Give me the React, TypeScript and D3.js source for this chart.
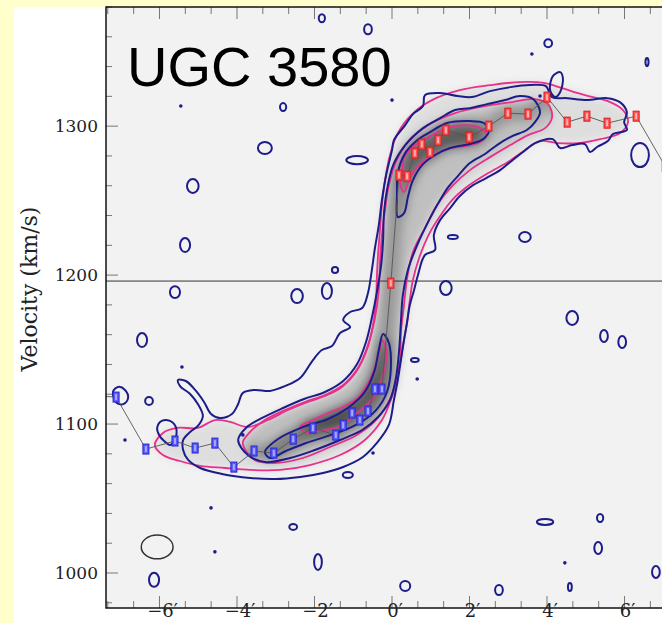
import * as d3 from "d3";

type P = [number, number];

// rotation curve, arcmin offset vs velocity (km/s)
const recedingPts: P[] = [
  [-7.7, 1119], [-7.12, 1118.1], [-6.35, 1083.2], [-5.6, 1088.6], [-5.08, 1083.9], [-4.57, 1087.2],
  [-4.08, 1071.1], [-3.56, 1081.9], [-3.05, 1080.5], [-2.55, 1089.9], [-2.04, 1097.3],
  [-1.45, 1092.6], [-1.26, 1099.3], [-1.03, 1107.4], [-0.83, 1102.7], [-0.62, 1108.7],
  [-0.44, 1123.5], [-0.26, 1123.5],
];
const approachingPts: P[] = [
  [-0.03, 1194.6], [0.18, 1267.1], [0.39, 1266.4], [0.59, 1281.9], [0.77, 1287.9], [0.98, 1282.6],
  [1.19, 1290.6], [1.39, 1297.3], [1.99, 1292.6], [2.5, 1300.0], [2.99, 1308.7], [3.51, 1308.1],
  [4.0, 1319.5], [4.52, 1302.7], [5.03, 1306.7], [5.55, 1302.0], [6.3, 1306.7], [7.05, 1273],
];
const systemicVel = 1196;

// model contours (magenta)
const modelOuter: P[] = [
  [-6.12, 1086.0], [-5.91, 1094.0], [-5.55, 1097.4], [-5.01, 1097.4], [-4.57, 1102.7], [-4.18, 1101.4],
  [-3.72, 1098.0], [-3.2, 1102.7], [-2.68, 1109.4], [-2.17, 1114.8], [-1.73, 1118.8], [-1.29, 1124.9],
  [-0.93, 1134.9], [-0.65, 1149.7], [-0.49, 1166.5], [-0.41, 1183.3], [-0.39, 1198.7], [-0.36, 1213.5],
  [-0.31, 1230.2], [-0.26, 1247.0], [-0.18, 1263.8], [-0.05, 1280.6], [0.15, 1295.3], [0.52, 1308.1],
  [1.03, 1317.5], [1.75, 1324.2], [2.53, 1327.5], [3.3, 1329.6], [3.95, 1328.9], [4.39, 1325.5],
  [4.98, 1320.8], [5.57, 1316.8], [5.96, 1310.8], [6.09, 1302.7], [5.88, 1295.3], [5.37, 1291.3],
  [4.8, 1288.6], [4.28, 1288.6], [3.82, 1290.0], [3.43, 1283.9], [2.99, 1275.9], [2.48, 1268.5],
  [1.96, 1259.8], [1.55, 1250.4], [1.24, 1239.6], [0.93, 1226.2], [0.7, 1211.5], [0.54, 1196.7],
  [0.46, 1183.3], [0.39, 1168.5], [0.28, 1152.4], [0.15, 1132.9], [-0.03, 1116.2], [-0.26, 1102.7],
  [-0.7, 1089.3], [-1.34, 1079.2], [-2.12, 1072.5], [-2.89, 1069.2], [-3.66, 1069.2], [-4.31, 1070.5],
  [-4.95, 1071.9], [-5.47, 1075.2], [-5.91, 1079.2],
];
const modelMid: P[] = [
  [-3.85, 1087.3], [-3.66, 1094.7], [-3.28, 1102.7], [-2.76, 1109.4], [-2.25, 1114.8], [-1.73, 1119.5],
  [-1.26, 1126.2], [-0.88, 1137.6], [-0.62, 1153.1], [-0.44, 1171.2], [-0.34, 1190.0], [-0.31, 1208.8],
  [-0.26, 1226.9], [-0.18, 1243.7], [-0.08, 1260.4], [0.1, 1275.9], [0.41, 1289.3], [0.93, 1300.7],
  [1.63, 1308.8], [2.4, 1313.5], [3.1, 1316.2], [3.69, 1318.2], [4.03, 1314.8], [4.13, 1306.1],
  [3.95, 1298.7], [3.51, 1294.0], [3.05, 1287.3], [2.53, 1279.2], [2.01, 1270.5], [1.55, 1259.8],
  [1.16, 1247.0], [0.85, 1231.6], [0.54, 1215.5], [0.39, 1198.0], [0.31, 1179.9], [0.23, 1161.8],
  [0.21, 1143.0], [0.08, 1126.2], [-0.13, 1112.8], [-0.46, 1101.4], [-0.95, 1092.0], [-1.6, 1084.6],
  [-2.3, 1077.2], [-2.97, 1073.9], [-3.54, 1075.9],
];
const modelCoreUpper: P[] = [
  [0.26, 1269.2], [0.31, 1278.6], [0.59, 1287.3], [0.98, 1293.3], [1.42, 1298.7], [1.88, 1300.7],
  [2.27, 1298.7], [2.43, 1294.0], [2.27, 1289.3], [1.88, 1286.6], [1.42, 1284.6], [0.98, 1279.2],
  [0.65, 1272.5], [0.44, 1263.8], [0.31, 1255.7], [0.21, 1261.1],
];
const modelCoreLower: P[] = [
  [-2.37, 1098.1], [-2.04, 1102.7], [-1.65, 1107.4], [-1.21, 1112.1], [-0.88, 1117.5], [-0.57, 1129.6],
  [-0.36, 1145.0], [-0.26, 1156.4], [-0.15, 1149.7], [-0.21, 1135.0], [-0.44, 1118.8], [-0.9, 1107.4],
  [-1.34, 1098.7], [-1.86, 1095.4], [-2.25, 1094.7],
];

// observed contours (blue)
const dataOuter: P[] = [
  [-5.39, 1089.3], [-5.21, 1094.7], [-5.01, 1098.7], [-4.88, 1105.4], [-5.01, 1113.5], [-5.21, 1120.2],
  [-5.47, 1125.5], [-5.52, 1129.6], [-5.32, 1128.9], [-5.08, 1122.9], [-4.85, 1114.8], [-4.67, 1106.8],
  [-4.44, 1104.1], [-4.13, 1106.8], [-3.97, 1113.5], [-3.85, 1120.9], [-3.54, 1122.9], [-3.15, 1122.2],
  [-2.76, 1125.5], [-2.37, 1130.9], [-2.04, 1143.0], [-1.81, 1149.7], [-1.55, 1152.4], [-1.34, 1161.1],
  [-1.08, 1165.1], [-1.26, 1169.8], [-1.08, 1175.2], [-0.77, 1177.9], [-0.62, 1188.0], [-0.52, 1203.4],
  [-0.44, 1218.2], [-0.34, 1233.6], [-0.26, 1250.4], [-0.15, 1267.2], [0.0, 1283.9], [0.05, 1290.6],
  [0.34, 1300.7], [0.54, 1308.1], [0.8, 1313.5], [0.85, 1320.8], [1.24, 1322.2], [1.7, 1320.2],
  [2.06, 1319.5], [2.53, 1323.5], [3.05, 1326.2], [3.56, 1327.6], [3.97, 1326.9], [4.13, 1319.5],
  [4.52, 1318.8], [5.03, 1317.5], [5.55, 1318.8], [5.88, 1316.1], [6.06, 1309.4], [5.99, 1302.7],
  [6.06, 1297.4], [5.7, 1294.7], [5.57, 1290.0], [5.29, 1286.0], [5.11, 1282.6], [4.98, 1288.0],
  [4.65, 1287.3], [4.34, 1285.3], [4.15, 1291.3], [3.69, 1288.6], [3.38, 1282.6], [3.05, 1275.9],
  [2.79, 1270.5], [2.43, 1265.1], [2.06, 1259.8], [1.75, 1253.1], [1.5, 1245.0], [1.24, 1236.9],
  [1.08, 1226.9], [1.11, 1216.8], [0.85, 1213.5], [0.67, 1200.1], [0.57, 1190.0], [0.46, 1179.9],
  [0.39, 1168.5], [0.31, 1156.4], [0.23, 1143.0], [0.15, 1129.6], [0.05, 1116.2], [-0.08, 1099.4],
  [-0.39, 1087.3], [-0.75, 1077.9], [-1.26, 1071.2], [-1.78, 1067.2], [-2.37, 1064.5], [-3.02, 1063.1],
  [-3.66, 1063.8], [-4.39, 1066.5], [-4.95, 1070.5], [-5.26, 1075.9], [-5.39, 1082.6],
];
const dataMid: P[] = [
  [-3.97, 1089.3], [-3.77, 1097.4], [-3.35, 1104.1], [-2.81, 1110.8], [-2.27, 1116.8], [-1.73, 1121.5],
  [-1.26, 1128.9], [-0.9, 1140.3], [-0.67, 1155.1], [-0.52, 1171.2], [-0.39, 1188.6], [-0.28, 1206.7],
  [-0.23, 1223.5], [-0.21, 1240.3], [-0.13, 1257.1], [0.03, 1273.9], [0.34, 1287.3], [0.8, 1298.7],
  [1.24, 1305.4], [1.63, 1310.8], [2.01, 1312.1], [2.45, 1314.8], [2.92, 1317.5], [3.3, 1320.2],
  [3.64, 1318.2], [3.82, 1309.4], [3.69, 1302.7], [3.48, 1297.4], [3.1, 1293.3], [2.71, 1287.3],
  [2.4, 1281.3], [2.01, 1275.2], [1.7, 1266.5], [1.45, 1259.1], [1.24, 1250.4], [0.93, 1235.6],
  [0.65, 1220.2], [0.41, 1203.4], [0.28, 1186.6], [0.23, 1168.5], [0.18, 1148.4], [0.1, 1130.9],
  [-0.05, 1116.2], [-0.36, 1104.7], [-0.77, 1096.0], [-1.34, 1089.3], [-1.99, 1082.6], [-2.63, 1077.2],
  [-3.28, 1074.5], [-3.72, 1079.2],
];
const dataCoreUpper: P[] = [
  [0.15, 1239.0], [0.13, 1255.1], [0.15, 1268.5], [0.34, 1281.9], [0.65, 1290.6], [0.98, 1296.0],
  [1.42, 1302.1], [2.01, 1303.4], [2.37, 1302.1], [2.5, 1296.7], [2.35, 1291.3], [2.01, 1288.0],
  [1.5, 1285.3], [1.16, 1281.3], [0.8, 1274.5], [0.54, 1263.8], [0.41, 1252.4], [0.31, 1241.6],
];
const dataCoreLower: P[] = [
  [-3.28, 1081.2], [-2.94, 1090.0], [-2.3, 1098.0], [-1.65, 1103.4], [-1.14, 1110.8], [-0.72, 1120.9],
  [-0.46, 1135.0], [-0.34, 1149.7], [-0.23, 1160.5], [-0.08, 1154.4], [-0.03, 1137.6], [-0.13, 1121.5],
  [-0.41, 1109.4], [-0.93, 1099.4], [-1.57, 1092.7], [-2.22, 1087.3], [-2.74, 1081.9], [-3.15, 1077.2],
];
const dataLoops: P[][] = [
  [[4.08, 1324.2], [4.15, 1333.6], [4.34, 1336.3], [4.41, 1332.3], [4.34, 1322.9], [4.21, 1319.5]],
  [[-6.06, 1097.4], [-5.94, 1102.1], [-5.73, 1102.1], [-5.57, 1097.4], [-5.6, 1089.3], [-5.73, 1086.0], [-5.88, 1088.6], [-6.01, 1092.7]],
  [[-7.2, 1121.5], [-7.07, 1124.9], [-6.89, 1122.9], [-6.81, 1117.5], [-6.92, 1113.5], [-7.1, 1114.1]],
];
// isolated noise contours: centre arcmin, centre km/s, half width arcmin, half height km/s
const noiseBlobs: [number, number, number, number][] = [
  [-1.81, 1372.5, 0.08, 2.7], [-0.62, 1365.1, 0.1, 3.4], [4.03, 1355.7, 0.1, 2.7], [6.58, 1343.0, 0.04, 2.7],
  [-2.81, 1312.8, 0.08, 2.7], [-3.28, 1285.3, 0.18, 4.0], [-5.14, 1259.8, 0.15, 4.7], [-0.9, 1277.2, 0.28, 2.7],
  [-5.34, 1220.2, 0.13, 4.7], [-5.6, 1188.6, 0.13, 4.0], [-2.45, 1185.9, 0.15, 4.7], [-6.45, 1156.4, 0.13, 4.7],
  [-1.47, 1203.4, 0.08, 2.0], [-1.68, 1189.3, 0.13, 5.4], [1.57, 1225.6, 0.13, 1.3], [1.39, 1191.3, 0.15, 4.7],
  [0.59, 1143.0, 0.1, 1.3], [3.43, 1225.6, 0.15, 3.4], [4.65, 1171.2, 0.15, 4.7], [5.47, 1159.1, 0.1, 4.0],
  [5.94, 1155.1, 0.1, 4.0], [-6.27, 1115.5, 0.1, 2.7], [-1.14, 1065.8, 0.13, 2.0], [-6.14, 995.4, 0.13, 4.7],
  [-2.55, 1030.9, 0.1, 2.0], [-1.91, 1007.4, 0.1, 5.4], [0.34, 991.3, 0.13, 3.4], [2.76, 988.6, 0.1, 3.4],
  [4.59, 990.6, 0.05, 2.7], [3.95, 1034.3, 0.21, 2.0], [5.37, 1036.9, 0.08, 2.7], [5.32, 1016.8, 0.1, 4.0],
  [6.81, 1000.7, 0.1, 4.0], [6.4, 1280.6, 0.23, 8.1],
];
const noiseDots: P[] = [
  [3.61, 1348.4], [-5.5, 1348.4], [-4.36, 1349.0], [-5.45, 1313.5], [0.65, 1130.2], [-5.42, 1138.3],
  [-6.89, 1089.3], [-3.85, 1092.7], [-0.49, 1080.6], [-4.67, 1043.7], [-4.57, 1014.2], [3.82, 1320.2],
  [0.0, 1317.5], [4.46, 1006.8],
];
const beam = { x: -6.06, v: 1017.5, rx: 0.41, ry: 8 };

const yTickLabels = [1000, 1100, 1200, 1300];
const xTickLabels = [-6, -4, -2, 0, 2, 4, 6];

const BLUE = "#1d1d8a";
const MAGENTA = "#e8308a";

export default function App() {
  const W = 662;
  const H = 623;
  const left = 106, right = 678, top = 7, bottom = 608;

  const x = d3.scaleLinear().domain([-7.38, 7.38]).range([left, right]);
  const y = d3.scaleLinear().domain([976.5, 1380]).range([bottom, top]);

  const closed = d3
    .line<P>()
    .x((d) => x(d[0]))
    .y((d) => y(d[1]))
    .curve(d3.curveCatmullRomClosed.alpha(0.5));
  const open = d3.line<P>().x((d) => x(d[0])).y((d) => y(d[1]));

  const curvePts = [...recedingPts, ...approachingPts];
  const yMinor = d3.range(980, 1381, 20);
  const xMinor = d3.range(-11, 12);

  const marker = (d: P, fill: string, stroke: string, inner: string, key: string) => (
    <g key={key}>
      <rect x={x(d[0]) - 3} y={y(d[1]) - 5} width={6} height={10} fill={fill} stroke={stroke} strokeWidth={1} />
      <rect x={x(d[0]) - 1} y={y(d[1]) - 3} width={2} height={6} fill={inner} />
    </g>
  );

  return (
    <svg
      width={W}
      height={H}
      viewBox={`0 0 ${W} ${H}`}
      style={{ position: "absolute", left: 0, top: 0, display: "block" }}
    >
      <defs>
        <clipPath id="plotClip">
          <rect x={left} y={top} width={right - left} height={bottom - top} />
        </clipPath>
        <clipPath id="midClip">
          <path d={closed(modelMid) ?? ""} />
        </clipPath>
        <filter id="soft" x="-20%" y="-20%" width="140%" height="140%">
          <feGaussianBlur stdDeviation="4" />
        </filter>
        <filter id="softer" x="-20%" y="-20%" width="140%" height="140%">
          <feGaussianBlur stdDeviation="6" />
        </filter>
      </defs>

      <rect width={W} height={H} fill="#ffffcc" />
      <rect x={14} y={7} width={W - 14} height={H - 7} fill="#ffffff" />
      <rect x={left} y={top} width={right - left} height={bottom - top} fill="#f2f2f2" />

      <g clipPath="url(#plotClip)">
        {/* grey-scale emission */}
        <g filter="url(#soft)">
          <path d={closed(modelOuter) ?? ""} fill="#dedede" />
          <path d={closed(modelMid) ?? ""} fill="#c0c0c0" />
        </g>
        <g clipPath="url(#midClip)">
          <path d={open(curvePts) ?? ""} fill="none" stroke="#8c8c8c" strokeWidth={12} filter="url(#softer)" />
        </g>
        <g filter="url(#softer)">
          <path d={closed(dataCoreUpper) ?? ""} fill="#8a8a8a" />
          <path d={closed(dataCoreLower) ?? ""} fill="#7a7a7a" />
          <path d={closed(modelCoreUpper) ?? ""} fill="#5a5a5a" />
          <path d={closed(modelCoreLower) ?? ""} fill="#454545" />
        </g>

        <line x1={left} x2={right} y1={y(systemicVel)} y2={y(systemicVel)} stroke="#333" strokeWidth={1} />

        {/* model contours */}
        {[modelOuter, modelMid, modelCoreUpper, modelCoreLower].map((c, i) => (
          <path key={`m${i}`} d={closed(c) ?? ""} fill="none" stroke={MAGENTA} strokeWidth={1.8} />
        ))}
        {/* data contours */}
        {[dataOuter, dataMid, dataCoreUpper, dataCoreLower, ...dataLoops].map((c, i) => (
          <path key={`d${i}`} d={closed(c) ?? ""} fill="none" stroke={BLUE} strokeWidth={2} />
        ))}
        {noiseBlobs.map((b, i) => (
          <ellipse
            key={`n${i}`}
            cx={x(b[0])}
            cy={y(b[1])}
            rx={x(b[0] + b[2]) - x(b[0])}
            ry={y(b[1]) - y(b[1] + b[3])}
            fill="none"
            stroke={BLUE}
            strokeWidth={2}
          />
        ))}
        {noiseDots.map((d, i) => (
          <circle key={`p${i}`} cx={x(d[0])} cy={y(d[1])} r={1.8} fill={BLUE} />
        ))}

        {/* rotation curve */}
        <path d={open(curvePts) ?? ""} fill="none" stroke="#555" strokeWidth={0.9} />
        {recedingPts.map((d, i) => marker(d, "#5b5bff", "#2424d0", "#a8a8ff", `b${i}`))}
        {approachingPts.map((d, i) => marker(d, "#ff5757", "#dd1a1a", "#ffb0b0", `r${i}`))}

        <ellipse
          cx={x(beam.x)}
          cy={y(beam.v)}
          rx={x(beam.x + beam.rx) - x(beam.x)}
          ry={y(beam.v) - y(beam.v + beam.ry)}
          fill="none"
          stroke="#333"
          strokeWidth={1.5}
        />
      </g>

      {/* ticks */}
      {yMinor.map((v) => {
        const major = v % 100 === 0;
        return (
          <line key={`yt${v}`} x1={left} x2={left + (major ? 12 : 6)} y1={y(v)} y2={y(v)} stroke="#777" strokeWidth={1} />
        );
      })}
      {xMinor.map((i) => {
        const major = i % 3 === 0;
        const px = x((i * 2) / 3);
        const len = major ? 12 : 7;
        return (
          <g key={`xt${i}`}>
            <line x1={px} x2={px} y1={bottom} y2={bottom - len} stroke="#777" strokeWidth={1} />
            <line x1={px} x2={px} y1={top} y2={top + len} stroke="#777" strokeWidth={1} />
          </g>
        );
      })}
      <rect x={left} y={top} width={right - left} height={bottom - top} fill="none" stroke="#111" strokeWidth={1.5} />

      {yTickLabels.map((v) => (
        <text key={`yl${v}`} x={left - 8} y={y(v)} dy="0.36em" textAnchor="end" fontFamily="DejaVu Serif" fontSize={17} fill="#222">
          {v}
        </text>
      ))}
      {xTickLabels.map((t) => (
        <text key={`xl${t}`} x={x(t) + 3} y={617} textAnchor="middle" fontFamily="DejaVu Serif" fontSize={18} fill="#222">
          {`${t < 0 ? "\u2212" : ""}${Math.abs(t)}\u2032`}
        </text>
      ))}
      <text
        transform={`translate(37,289) rotate(-90)`}
        textAnchor="middle"
        fontFamily="DejaVu Serif"
        fontSize={22}
        fill="#222"
      >
        Velocity (km/s)
      </text>

      <text x={127} y={86} fontFamily="Liberation Sans, Arial, sans-serif" fontSize={56} fill="#000">
        UGC 3580
      </text>
    </svg>
  );
}
